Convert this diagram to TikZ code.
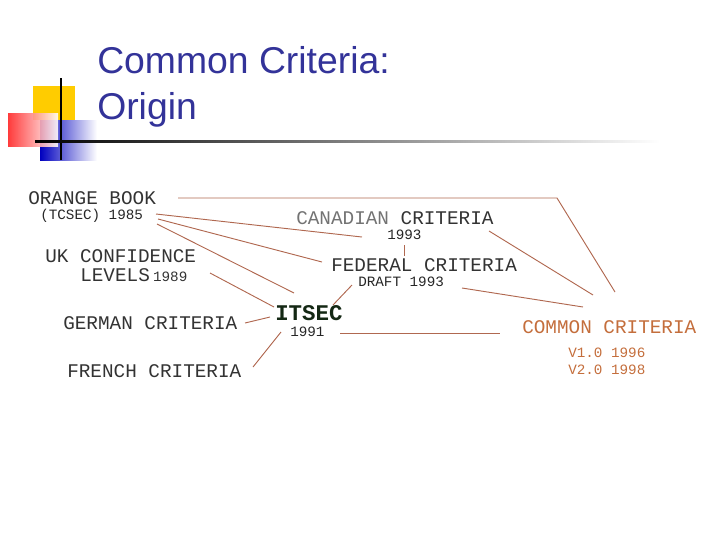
\documentclass[tikz,border=0pt]{standalone}
\usepackage{fontspec}
\setmainfont{Liberation Sans}
\newfontfamily\mono{Liberation Mono}
\definecolor{lnc}{RGB}{176,104,80}
\definecolor{ccc}{RGB}{196,110,60}
\definecolor{ttl}{RGB}{51,51,153}
\definecolor{ylw}{RGB}{255,204,0}
\definecolor{itc}{RGB}{20,40,20}
\begin{document}
\begin{tikzpicture}[x=0.75pt,y=-0.75pt,
  lbl/.style={font=\mono\fontsize{14.5}{16}\selectfont,text=black!80,inner sep=0pt,anchor=west},
  sml/.style={font=\mono\fontsize{10.7}{12}\selectfont,text=black!85,inner sep=0pt,anchor=west},
  ln/.style={draw=lnc,line width=0.7pt}]
\useasboundingbox (0,0) rectangle (720,540);
% logo
\fill[ylw] (33,86) rectangle (75,120);
\shade[left color=blue!75!black,right color=white] (40,120) rectangle (97,160);
\shade[left color=red!85,right color=white,opacity=0.9] (8,113) rectangle (58,146);
\draw[line width=1.5pt] (61,78) -- (61,160);
\shade[left color=black,right color=white] (35,140) rectangle (660,142.5);
\node[anchor=base west,inner sep=0pt,text=ttl,font=\fontsize{28}{30}\selectfont] (t1) at (97,73) {Common Criteria:};
\node[anchor=base west,inner sep=0pt,text=ttl,font=\fontsize{28}{30}\selectfont] (t2) at (97,119) {Origin};
% texts
\node[lbl] (ob) at (28,198) {ORANGE BOOK};
\node[sml] (tc) at (40,216) {(TCSEC) 1985};
\node[lbl] (uk) at (45,256) {UK CONFIDENCE};
\node[lbl] (lv) at (80,275) {LEVELS\,{\fontsize{10.7}{12}\selectfont 1989}};
\node[lbl] (ge) at (63,323) {GERMAN CRITERIA};
\node[lbl] (fr) at (67,371) {FRENCH CRITERIA};
\node[lbl] (ca) at (296,218) {{\color{black!55}CANADIAN} CRITERIA};
\node[sml] (cay) at (387,235) {1993};
\node[lbl] (fe) at (331,265) {FEDERAL CRITERIA};
\node[sml] (dr) at (358,282) {DRAFT 1993};
\node[lbl,font=\mono\bfseries\fontsize{16.8}{18}\selectfont,text=itc] (it) at (275,313) {ITSEC};
\node[sml] (ity) at (290,332) {1991};
\node[lbl,text=ccc] (cc) at (522,327) {COMMON CRITERIA};
\node[sml,text=ccc] (v1) at (568,353) {V1.0 1996};
\node[sml,text=ccc] (v2) at (568,370) {V2.0 1998};
% connector points
\coordinate (ccA) at (615,292);
\coordinate (ccB) at (593,295);
\coordinate (ccC) at (583,307);
\coordinate (ccD) at (500,333);
\coordinate (cnr) at (557,198);
\draw[ln] (178,198) -- (cnr) -- (ccA);
\draw[ln] (156,214) -- (362,237);
\draw[ln] (158,219) -- (322,262);
\draw[ln] (157,224) -- (294,293);
\draw[ln] (210,273) -- (274,307);
\draw[ln] (245,323) -- (270,317);
\draw[ln] (253,367) -- (281,332);
\draw[ln] (333,305) -- (352,285);
\draw[ln] (340,333) -- (ccD);
\draw[ln] (404,245) -- (404,256);
\draw[ln] (489,231) -- (ccB);
\draw[ln] (462,288) -- (ccC);
\end{tikzpicture}
\end{document}
